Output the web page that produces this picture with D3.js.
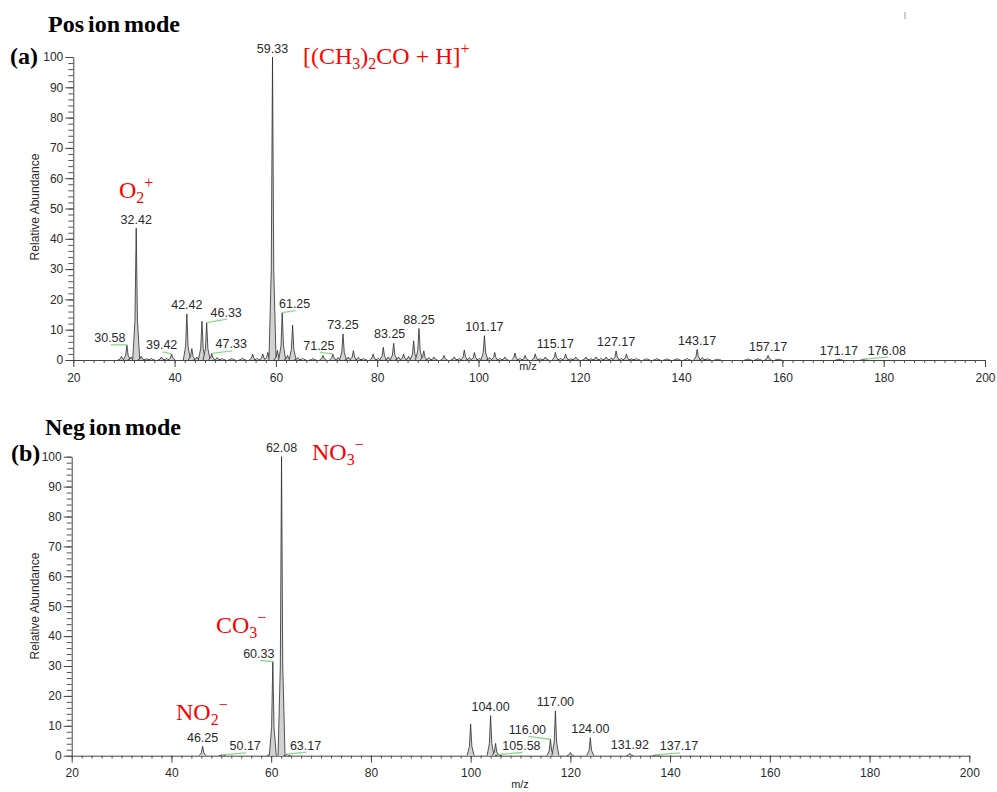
<!DOCTYPE html>
<html><head><meta charset="utf-8">
<script src="https://cdn.jsdelivr.net/npm/d3@7"></script>
<style>body{margin:0;background:#fff}</style>
</head><body>
<svg id="c" width="997" height="792" xmlns="http://www.w3.org/2000/svg"></svg>
<script>
// ---------- DATA ----------
const xTicks = [20, 40, 60, 80, 100, 120, 140, 160, 180, 200];
const yTicks = [0, 10, 20, 30, 40, 50, 60, 70, 80, 90, 100];

// Positive ion mode spectrum (m/z, relative abundance)
const posMz = [29.5, 30.58, 31.4, 32.42, 33.4, 34.5, 35.4, 37.4, 38.4, 39.42, 42.42, 43.4, 44.4, 45.4, 46.33, 47.33, 48.4, 49.4, 51.3, 53.4, 55.4, 56.3, 57.4, 58.4, 59.33, 60.3, 61.25, 62.3, 63.3, 64.3, 65.3, 67.3, 69.3, 71.25, 72.3, 73.25, 74.3, 75.3, 76.3, 77.3, 79.2, 80.2, 81.2, 82.2, 83.25, 84.2, 85.2, 86.2, 87.2, 88.25, 89.2, 90.2, 91.2, 93.2, 95.2, 96.2, 97.2, 98.2, 99.2, 100.2, 101.17, 102.2, 103.2, 104.2, 105.2, 107.2, 108.2, 109.2, 111.2, 112.2, 113.2, 115.17, 116.2, 117.2, 118.2, 119.2, 121.2, 122.2, 123.2, 124.2, 125.2, 126.2, 127.17, 128.2, 129.2, 130.2, 131.2, 133.2, 135.2, 137.2, 139.2, 141.2, 143.17, 144.2, 145.2, 147.2, 153.2, 155.2, 157.17, 159.2, 171.17, 176.08];
const posInt = [1.2, 5.0, 1.0, 43.5, 1.2, 0.5, 0.6, 1.0, 0.6, 2.0, 15.2, 3.8, 1.0, 12.8, 12.3, 2.2, 0.8, 0.6, 0.6, 0.7, 2.0, 0.6, 2.0, 2.5, 100, 3.2, 15.6, 1.5, 11.5, 0.8, 0.6, 0.5, 1.5, 2.0, 0.8, 8.6, 1.0, 3.1, 0.8, 0.5, 2.0, 0.6, 4.2, 1.0, 5.5, 1.0, 2.0, 1.2, 6.3, 10.4, 3.0, 0.8, 1.0, 1.5, 1.0, 0.5, 3.3, 0.8, 2.5, 0.6, 8.0, 0.8, 2.5, 0.6, 1.0, 2.3, 0.6, 1.5, 2.0, 0.5, 1.0, 2.5, 0.6, 2.0, 0.5, 1.0, 1.0, 0.5, 1.0, 0.6, 1.0, 0.7, 3.0, 0.6, 2.0, 0.4, 0.6, 0.5, 0.5, 0.4, 0.5, 0.6, 3.5, 0.8, 0.5, 0.3, 0.4, 0.5, 1.5, 0.3, 0.3, 0.3];
const posLabels = ["30.58", "32.42", "39.42", "42.42", "46.33", "47.33", "59.33", "61.25", "71.25", "73.25", "83.25", "88.25", "101.17", "115.17", "127.17", "143.17", "157.17", "171.17", "176.08"];

// Negative ion mode spectrum
const negMz = [46.25, 50.17, 59.8, 60.33, 62.08, 63.17, 100.0, 104.0, 105.0, 105.58, 116.0, 117.0, 120.0, 124.0, 131.92, 137.17];
const negInt = [3.2, 0.3, 1.0, 31.5, 100, 0.5, 10.6, 13.4, 4.1, 0.4, 5.5, 15.0, 1.1, 6.0, 0.8, 0.3];
const negLabels = ["46.25", "50.17", "60.33", "62.08", "63.17", "104.00", "105.58", "116.00", "117.00", "124.00", "131.92", "137.17"];

// ---------- LAYOUT (label offsets in px, not data) ----------
const posLabelDx = {"30.58": -17, "39.42": -10, "46.33": 19.5, "47.33": 19.5, "61.25": 12.4, "71.25": -14, "83.25": -4, "176.08": 23};
const posLabelDy = {"46.33": -6, "47.33": -5, "30.58": -2.5, "71.25": -4, "83.25": -5};
const negLabelDx = {"60.33": -14, "50.17": 23, "63.17": 18.6, "105.58": 23, "116.00": -23, "137.17": 23};
const negLabelDy = {"116.00": -5.3, "60.33": -3.3};

const svg = d3.select("#c");
const SANS = "'Liberation Sans', Arial, sans-serif";
const SERIF = "'Liberation Serif', 'Times New Roman', serif";

function panel(cfg) {
  const x = d3.scaleLinear().domain([20, 200]).range([cfg.x0, cfg.x1]);
  const y = d3.scaleLinear().domain([0, 100]).range([cfg.y0, cfg.y1]);
  const g = svg.append("g");

  // minor ticks
  const xMinor = d3.range(20, 201, 2);
  const yMinor = d3.range(0, 101, 2);
  g.append("g").attr("transform", `translate(0,${cfg.y0})`)
    .call(d3.axisBottom(x).tickValues(xMinor).tickSize(3).tickFormat(""))
    .call(a => a.select(".domain").remove())
    .call(a => a.selectAll("line").attr("stroke", "#555"));
  g.append("g").attr("transform", `translate(${cfg.x0},0)`)
    .call(d3.axisLeft(y).tickValues(yMinor).tickSize(5).tickFormat(""))
    .call(a => a.select(".domain").remove())
    .call(a => a.selectAll("line").attr("stroke", "#555"));

  // major axes
  const xa = g.append("g").attr("transform", `translate(0,${cfg.y0})`)
    .call(d3.axisBottom(x).tickValues(xTicks).tickSize(7).tickPadding(6).tickSizeOuter(0));
  const ya = g.append("g").attr("transform", `translate(${cfg.x0},0)`)
    .call(d3.axisLeft(y).tickValues(yTicks).tickSize(8).tickPadding(2).tickSizeOuter(0));
  [xa, ya].forEach(a => {
    a.select(".domain").attr("stroke", "#444");
    a.selectAll("line").attr("stroke", "#444");
    a.selectAll("text").attr("fill", "#2a2a2a").style("font-family", SANS).style("font-size", "12px");
  });

  // spectrum peaks
  const hw = 0.7;
  const line = d3.line().x(d => x(d[0])).y(d => y(d[1]));
  const peaks = cfg.mz.map((m, i) => ({m, v: cfg.int[i]}));
  g.append("g").selectAll("path").data(peaks).join("path")
    .attr("d", p => line([[p.m - hw, 0], [p.m - hw * 0.35, p.v * 0.3], [p.m, p.v], [p.m + hw * 0.35, p.v * 0.3], [p.m + hw, 0]]))
    .attr("fill", "#d2d2d2").attr("stroke", "#2b2b2b").attr("stroke-width", 0.8)
    .attr("stroke-linejoin", "round");

  // peak labels
  const lab = cfg.labels.map(t => {
    const target = parseFloat(t);
    let bi = 0;
    cfg.mz.forEach((m, i) => { if (Math.abs(m - target) < Math.abs(cfg.mz[bi] - target)) bi = i; });
    const px = x(cfg.mz[bi]), py = y(cfg.int[bi]);
    const dx = cfg.dx[t] || 0, dy = cfg.dy[t] !== undefined ? cfg.dy[t] : -4.5;
    return {t, px, py, lx: px + dx, ly: py + dy, lead: Math.abs(dx) > 8};
  });
  g.append("g").selectAll("line").data(lab.filter(d => d.lead)).join("line")
    .attr("x1", d => d.px).attr("y1", d => d.py)
    .attr("x2", d => d.lx + 1).attr("y2", d => d.ly + 2.5)
    .attr("stroke", "#8fd68f").attr("stroke-width", 1.3);
  g.append("g").selectAll("text").data(lab).join("text")
    .attr("x", d => d.lx).attr("y", d => d.ly)
    .attr("text-anchor", "middle")
    .attr("fill", "#2a2a2a").style("font-family", SANS).style("font-size", "12.5px")
    .text(d => d.t);

  // axis titles
  g.append("text")
    .attr("transform", `translate(${cfg.ylx},${cfg.yly}) rotate(-90)`)
    .attr("text-anchor", "middle").attr("fill", "#2a2a2a")
    .style("font-family", SANS).style("font-size", "12px")
    .text("Relative Abundance");
  g.append("text").attr("x", cfg.mzx).attr("y", cfg.mzy)
    .attr("text-anchor", "middle").attr("fill", "#2a2a2a")
    .style("font-family", SANS).style("font-size", "11px")
    .text("m/z");
}

panel({x0: 73.3, x1: 985, y0: 360, y1: 57, mz: posMz, int: posInt, labels: posLabels,
       dx: posLabelDx, dy: posLabelDy, ylx: 39, yly: 207, mzx: 528, mzy: 370});
panel({x0: 71.7, x1: 969.3, y0: 755.7, y1: 456.7, mz: negMz, int: negInt, labels: negLabels,
       dx: negLabelDx, dy: negLabelDy, ylx: 39, yly: 606, mzx: 520, mzy: 788});

// titles
function title(txt, x, y) {
  svg.append("text").attr("x", x).attr("y", y)
    .style("font-family", SERIF).style("font-size", "24px").style("font-weight", "bold")
    .style("word-spacing", "-2px").attr("fill", "#000").text(txt);
}
title("Pos ion mode", 48, 32);
title("(a)", 10, 64);
title("Neg ion mode", 45, 435);
title("(b)", 11, 461);

// red chemical annotations: parts [text, kind] kind: n normal, b sub, p sup
function formula(parts, x, y) {
  const t = svg.append("text").attr("x", x).attr("y", y).attr("fill", "#ff0000")
    .style("font-family", SERIF).style("font-size", "24px");
  let state = 0;
  parts.forEach(([s, k]) => {
    const target = k === "b" ? 5 : k === "p" ? -10 : 0;
    t.append("tspan").attr("dy", target - state)
      .style("font-size", k === "n" ? "24px" : "16px").text(s);
    state = target;
  });
}
formula([["O", "n"], ["2", "b"], ["+", "p"]], 119, 198);
formula([["[(CH", "n"], ["3", "b"], [")", "n"], ["2", "b"], ["CO + H]", "n"], ["+", "p"]], 303, 64);
formula([["NO", "n"], ["3", "b"], ["\u2212", "p"]], 312, 460);
formula([["CO", "n"], ["3", "b"], ["\u2212", "p"]], 216, 633);
formula([["NO", "n"], ["2", "b"], ["\u2212", "p"]], 176, 720);

// small artifact mark at top right
svg.append("line").attr("x1", 905).attr("x2", 905).attr("y1", 12).attr("y2", 19)
  .attr("stroke", "#999").attr("stroke-width", 1);
</script>
</body></html>
